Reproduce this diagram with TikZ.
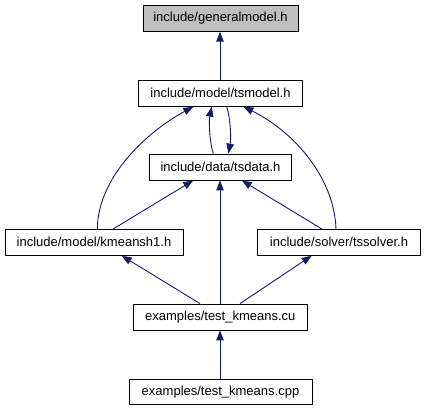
\documentclass[tikz,border=0pt]{standalone}
\usepackage{fontspec}
\setmainfont{Liberation Sans}
\usetikzlibrary{arrows.meta}
\definecolor{edgeblue}{RGB}{25,25,112}
\definecolor{rootgray}{RGB}{191,191,191}
\begin{document}
\begin{tikzpicture}[x=1pt,y=-1pt,
  filebox/.style={draw=black,line width=0.8pt,fill=white,inner sep=0pt,minimum height=26pt,
    font=\fontsize{13}{15}\selectfont},
  rootbox/.style={filebox,fill=rootgray},
  dep/.style={draw=edgeblue,line width=0.9pt,-{Triangle[length=10pt,width=7.5pt]}}]
\useasboundingbox (0,0) rectangle (426,411);
\node[rootbox,minimum width=155pt] (gm) at (220.5,18.3) {include/generalmodel.h};
\node[filebox,minimum width=164pt] (tsm) at (220.5,93.3) {include/model/tsmodel.h};
\node[filebox,minimum width=142pt] (tsd) at (220.5,167) {include/data/tsdata.h};
\node[filebox,minimum width=178pt] (km) at (94,242.3) {include/model/kmeansh1.h};
\node[filebox,minimum width=163pt] (tss) at (339,242.3) {include/solver/tssolver.h};
\node[filebox,minimum width=174pt] (cu) at (220.3,317) {examples/test\_kmeans.cu};
\node[filebox,minimum width=183pt,minimum height=25pt] (cpp) at (220.5,391.7) {examples/test\_kmeans.cpp};
% edges
\draw[dep] ([xshift=-0.5pt]tsm.north) -- ([xshift=-0.5pt]gm.south);
\draw[dep] ([xshift=-7.2pt]tsd.north) .. controls (209,140) and (209,120) .. ([xshift=-8.8pt]tsm.south);
\draw[dep] ([xshift=6.2pt]tsm.south) .. controls (231,120) and (231,140) .. ([xshift=7.8pt]tsd.north);
\draw[dep] ([xshift=3.3pt]km.north) .. controls (98,175) and (150,130) .. ([xshift=-27.2pt]tsm.south);
\draw[dep] ([xshift=-3pt]tss.north) .. controls (334,175) and (291,130) .. ([xshift=22.8pt]tsm.south);
\draw[dep] ([xshift=19.3pt]km.north) -- ([xshift=-27.2pt]tsd.south);
\draw[dep] ([xshift=-17.3pt]tss.north) -- ([xshift=21.2pt]tsd.south);
\draw[dep] ([xshift=-0.3pt]cu.north) -- ([xshift=-0.5pt]tsd.south);
\draw[dep] ([xshift=-20.3pt]cu.north) -- ([xshift=27.7pt]km.south);
\draw[dep] ([xshift=19.7pt]cu.north) -- ([xshift=-27.3pt]tss.south);
\draw[dep] ([xshift=-0.5pt]cpp.north) -- ([xshift=-0.3pt]cu.south);
\end{tikzpicture}
\end{document}
